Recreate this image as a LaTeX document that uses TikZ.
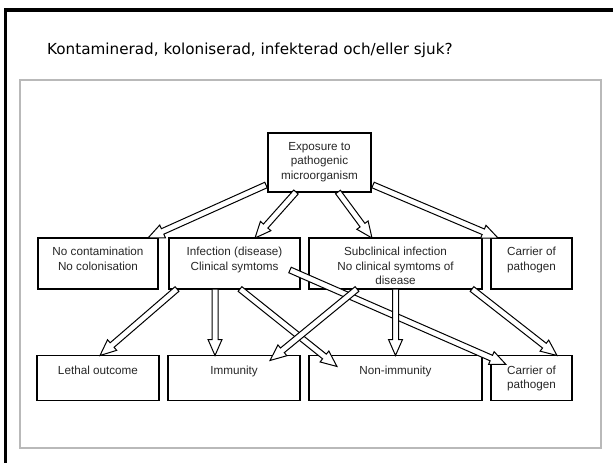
\documentclass[tikz,border=0pt]{standalone}
\usepackage{fontspec}
\newfontfamily\titlefont{DejaVu Sans}
\newfontfamily\boxfont{Liberation Sans}
\usetikzlibrary{positioning,calc}
\tikzstyle{block} = [rectangle, draw, line width=1.3pt, outer sep=0pt,
    inner sep=0pt, minimum height=51pt]
\tikzstyle{txt} = [align=center, inner sep=0pt, text=black!85,
    font=\boxfont\fontsize{11.7}{14.5}\selectfont]
\tikzstyle{fat} = [draw, fill=white, line width=1pt, line join=miter]

% hollow arrow from #1 to #2 (tip at #2)
\newcommand\fatarrow[2]{%
  \path let \p1=(#1), \p2=(#2) in
    \pgfextra{\pgfmathsetmacro\arrang{atan2(\y2-\y1,\x2-\x1)}%
      \pgfmathsetmacro\arrlen{veclen(\x2-\x1,\y2-\y1)}%
      \global\let\arrang\arrang\global\let\arrlen\arrlen};
  \begin{scope}[shift={(#1)}, rotate=\arrang]
    \path[fat] (0,-3) -- (\arrlen-16,-3) -- (\arrlen-16,-7) -- (\arrlen,0)
      -- (\arrlen-16,7) -- (\arrlen-16,3) -- (0,3) -- cycle;
  \end{scope}}

\begin{document}
\begin{tikzpicture}[x=1pt, y=-1pt]
    \useasboundingbox (0,0) rectangle (613,463);
    \clip (0,0) rectangle (613,463);

    % slide frame and title
    \draw[line width=3.6pt] (5.5,470) -- (5.5,9.8) -- (620,9.8);
    \draw[gray!55, line width=1.8pt] (20,80) rectangle (601,448);
    \node[anchor=base west, inner sep=0pt] (title) at (47,54)
        {\titlefont\fontsize{15.2}{18}\selectfont Kontaminerad, koloniserad, infekterad och/eller sjuk?};

    % Place boxes
    \node [block, minimum width=103pt, minimum height=59pt] (expo) at (319.5,162.5) {};
    \node [block, minimum width=120pt] (nocont) at (98,263.5) {};
    \node [block, minimum width=131pt, right=11pt of nocont] (infect) {};
    \node [block, minimum width=173pt, right=9pt of infect] (subcl) {};
    \node [block, minimum width=81pt, right=9pt of subcl] (carr1) {};
    \node [block, minimum width=122pt, minimum height=45pt] (lethal) at (98,378) {};
    \node [block, minimum width=132pt, minimum height=45pt, right=9pt of lethal] (immun) {};
    \node [block, minimum width=173pt, minimum height=45pt, right=9pt of immun] (nonimm) {};
    \node [block, minimum width=81pt, minimum height=45pt, right=9pt of nonimm] (carr2) {};

    % Box texts
    \node [txt, below=9pt of expo.north] (expo-t) {Exposure to\\pathogenic\\microorganism};
    \node [txt, below=9pt of nocont.north] (nocont-t) {No contamination\\No colonisation};
    \node [txt, below=9pt of infect.north] (infect-t) {Infection (disease)\\Clinical symtoms};
    \node [txt, below=9pt of subcl.north] (subcl-t) {Subclinical infection\\No clinical symtoms of\\disease};
    \node [txt, below=9pt of carr1.north] (carr1-t) {Carrier of\\pathogen};
    \node [txt, below=10pt of lethal.north] (lethal-t) {Lethal outcome};
    \node [txt, below=10pt of immun.north] (immun-t) {Immunity};
    \node [txt, below=10pt of nonimm.north] (nonimm-t) {Non-immunity};
    \node [txt, below=10pt of carr2.north] (carr2-t) {Carrier of\\pathogen};

    % Draw arrows
    \fatarrow{[xshift=-2pt,yshift=7pt]expo.south west}{[xshift=-10pt]nocont.north east}
    \fatarrow{[xshift=28pt]expo.south west}{[xshift=86pt]infect.north west}
    \fatarrow{[xshift=-33pt]expo.south east}{[xshift=63pt]subcl.north west}
    \fatarrow{[xshift=2pt,yshift=7pt]expo.south east}{[xshift=7pt]carr1.north west}
    \fatarrow{[xshift=8pt]infect.south west}{[xshift=2pt]lethal.north}
    \fatarrow{[xshift=46pt]infect.south west}{[xshift=47pt]immun.north west}
    \fatarrow{[xshift=71pt]infect.south west}{[xshift=28pt,yshift=-11pt]nonimm.north west}
    \fatarrow{[xshift=-10pt,yshift=19pt]infect.south east}{[xshift=15pt,yshift=-9pt]carr2.north west}
    \fatarrow{[xshift=48pt]subcl.south west}{[xshift=-30pt,yshift=-5pt]immun.north east}
    \fatarrow{subcl.south}{nonimm.north}
    \fatarrow{[xshift=-10pt]subcl.south east}{[xshift=-15pt]carr2.north east}
\end{tikzpicture}
\end{document}
